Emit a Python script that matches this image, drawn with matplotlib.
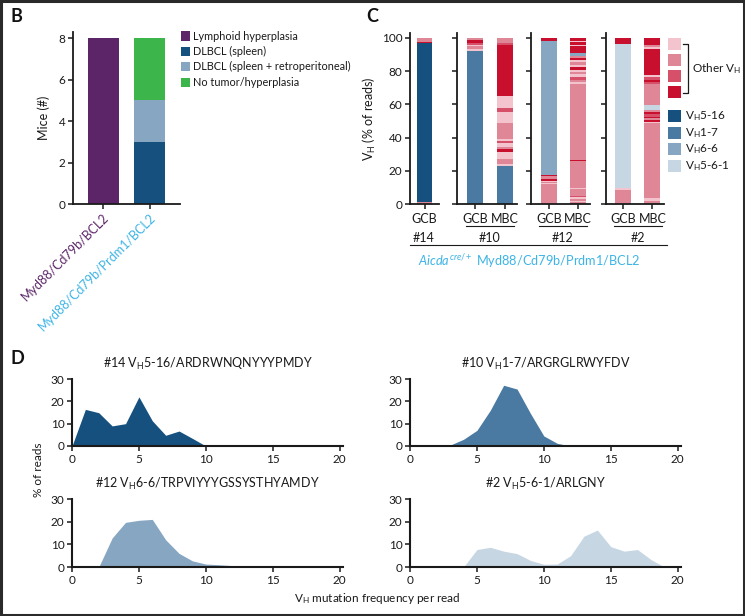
import matplotlib
matplotlib.use("Agg")
import matplotlib.pyplot as plt
from matplotlib.patches import Rectangle
from matplotlib.lines import Line2D
import numpy as np

plt.rcParams['font.family'] = ['Lato', 'DejaVu Sans']
plt.rcParams['mathtext.fontset'] = 'custom'
plt.rcParams['mathtext.rm'] = 'Lato'
plt.rcParams['mathtext.it'] = 'Lato:italic'
plt.rcParams['mathtext.bf'] = 'Lato:bold'

W, H = 745, 616

# ---------------- Panel B data ----------------
b_groups = ["Myd88/Cd79b/BCL2", "Myd88/Cd79b/Prdm1/BCL2"]
b_group_colors = ["#5b2568", "#3db4e6"]
b_categories = ["Lymphoid hyperplasia", "DLBCL (spleen)",
                "DLBCL (spleen + retroperitoneal)", "No tumor/hyperplasia"]
b_cat_colors = ["#5b2568", "#15507f", "#87a6c2", "#3cb54a"]
b_lymphoid = [8, 0]
b_dlbcl_spleen = [0, 3]
b_dlbcl_retro = [0, 2]
b_no_tumor = [0, 3]
b_yticks = [0, 2, 4, 6, 8]

# ---------------- Panel C data ----------------
vh_names = ["$\\mathrm{V_H}$5-16", "$\\mathrm{V_H}$1-7", "$\\mathrm{V_H}$6-6", "$\\mathrm{V_H}$5-6-1"]
seg_colors = {"B1": "#15507f", "B2": "#4a7aa2", "B3": "#87a6c2", "B4": "#c6d6e3",
              "P1": "#f3c4cd", "P2": "#e08797", "P3": "#d6506a", "P4": "#c8102e"}
c_mice = ["#14", "#10", "#12", "#2"]
c_samples = [["GCB"], ["GCB", "MBC"], ["GCB", "MBC"], ["GCB", "MBC"]]

m14_gcb_codes = ["P2", "B1", "P4", "P2"]
m14_gcb_heights = [1.5, 95.3, 0.6, 2.6]

m10_gcb_codes = ["B2", "P1", "P2", "P1", "P3", "P4", "P3", "P2"]
m10_gcb_heights = [92.2, 1.3, 1.5, 1.0, 1.0, 1.5, 0.5, 1.0]
m10_mbc_codes = ["B2", "P1", "P2", "P1", "P4", "P2", "P1", "P3", "P1", "P2",
                 "P1", "P3", "P1", "P4", "P3", "P2"]
m10_mbc_heights = [22.6, 1.6, 2.8, 4.6, 1.6, 1.0, 2.4, 1.4, 1.0, 9.6,
                   7.0, 2.0, 7.4, 31.0, 1.0, 3.0]

m12_gcb_codes = ["P2", "P1", "P2", "P1", "P4", "P2", "P4", "B3", "P4"]
m12_gcb_heights = [12.0, 0.4, 1.0, 0.6, 1.0, 1.6, 1.0, 80.6, 1.8]
m12_mbc_codes = ["P2", "P1", "P2", "P1", "P3", "P2", "P1", "P2", "P4", "P2",
                 "P1", "P2", "P3", "P1", "P2", "P1", "P4", "P1", "P2", "P1",
                 "P4", "P2", "B3", "P4", "P1", "P4", "P1", "P4"]
m12_mbc_heights = [1.0, 1.0, 1.0, 1.2, 0.8, 4.0, 0.6, 16.0, 1.0, 45.6,
                   1.4, 1.0, 2.0, 2.0, 1.0, 1.0, 2.0, 1.0, 2.0, 1.4,
                   1.0, 1.0, 2.0, 4.0, 1.0, 1.4, 1.0, 1.6]

m2_gcb_codes = ["P2", "P1", "B4", "P4"]
m2_gcb_heights = [8.6, 1.0, 87.0, 3.4]
m2_mbc_codes = ["P2", "P1", "P2", "P3", "P2", "P1", "P4", "P2", "P4", "P3",
                "P4", "P2", "B4", "P2", "P3", "P4", "P3", "P1", "P4", "P1",
                "P2", "P4"]
m2_mbc_heights = [1.6, 2.0, 7.6, 0.4, 37.0, 1.0, 1.0, 1.0, 1.0, 1.6,
                  1.4, 1.0, 3.0, 12.4, 1.2, 1.4, 2.0, 1.0, 16.0, 1.0,
                  1.0, 4.4]

c_yticks = [0, 20, 40, 60, 80, 100]

# ---------------- Panel D data ----------------
d_x = list(range(0, 21))
d14 = [0, 16.4, 14.9, 9.0, 10.0, 22.0, 11.3, 4.8, 6.7, 3.4, 0, 0, 0, 0, 0, 0, 0, 0, 0, 0, 0]
d10 = [0, 0, 0, 0.4, 3.0, 7.0, 16.0, 27.2, 25.5, 14.6, 4.5, 1.2, 0, 0, 0, 0, 0, 0, 0, 0, 0]
d12 = [0, 0, 0, 12.8, 19.7, 20.6, 21.0, 12.0, 6.0, 2.7, 1.3, 1.0, 0.6, 0.2, 0, 0, 0, 0, 0, 0, 0]
d2 = [0, 0, 0, 0, 0, 7.7, 8.7, 7.0, 5.9, 2.9, 1.2, 1.3, 5.0, 13.6, 16.3, 9.0, 7.0, 7.7, 3.3, 0, 0]
d_titles = ["#14 $\\mathrm{V_H}$5-16/ARDRWNQNYYYPMDY", "#10 $\\mathrm{V_H}$1-7/ARGRGLRWYFDV",
            "#12 $\\mathrm{V_H}$6-6/TRPVIYYYGSSYSTHYAMDY", "#2 $\\mathrm{V_H}$5-6-1/ARLGNY"]
d_colors = ["#15507f", "#4a7aa2", "#87a6c2", "#c6d6e3"]
d_xticks = [0, 5, 10, 15, 20]
d_yticks = [0, 10, 20, 30]

# ---------------- helpers ----------------
fig = plt.figure(figsize=(W / 100, H / 100), dpi=100)


def fx(px):
    return px / W


def fy(py):
    return 1 - py / H


def add_ax(l, t, r, b):
    return fig.add_axes([fx(l), fy(b), (r - l) / W, (b - t) / H])


def style(ax, lw=1.3):
    for s in ["top", "right"]:
        ax.spines[s].set_visible(False)
    for s in ["left", "bottom"]:
        ax.spines[s].set_linewidth(lw)
        ax.spines[s].set_color("#1a1a1a")
    ax.tick_params(direction="out", length=3.5, width=1.1, colors="#1a1a1a",
                   labelsize=8.5, pad=2)


TXT = "#1a1a1a"

# frame
fig.add_artist(Rectangle((0.0015, 0.002), 0.997, 0.996, transform=fig.transFigure,
                         fill=False, edgecolor="#2a2a2a", linewidth=2.2))

# panel letters
for letter, (px, py) in zip("BCD", [(10, 17), (366, 17), (10, 359)]):
    fig.text(fx(px), fy(py), letter, fontsize=13, fontweight="bold", va="center",
             ha="left", color="#111111")

# ---------------- Panel B ----------------
axB = add_ax(73, 32, 180, 204)
style(axB)
xb = np.arange(len(b_groups))
bottom = np.zeros(len(b_groups))
for vals, col in zip([b_lymphoid, b_dlbcl_spleen, b_dlbcl_retro, b_no_tumor], b_cat_colors):
    axB.bar(xb, vals, bottom=bottom, width=0.66, color=col, edgecolor="none")
    bottom += np.array(vals)
axB.set_xlim(-0.64, 1.64)
axB.set_ylim(0, 8.3)
axB.set_yticks(b_yticks)
axB.set_xticks(xb)
axB.set_xticklabels(b_groups, rotation=45, ha="right", rotation_mode="anchor", fontsize=9)
for lbl, c in zip(axB.get_xticklabels(), b_group_colors):
    lbl.set_color(c)
axB.set_ylabel("Mice (#)", fontsize=9, color=TXT, labelpad=6)

for i, (name, col) in enumerate(zip(b_categories, b_cat_colors)):
    yc = 36 + i * 15.4
    fig.add_artist(Rectangle((fx(181), fy(yc + 4.5)), 9 / W, 9 / H,
                             transform=fig.transFigure, facecolor=col, edgecolor="none"))
    fig.text(fx(193), fy(yc), name, fontsize=7.8, va="center", ha="left", color=TXT)

# ---------------- Panel C ----------------
c_bars = [
    [(m14_gcb_codes, m14_gcb_heights)],
    [(m10_gcb_codes, m10_gcb_heights), (m10_mbc_codes, m10_mbc_heights)],
    [(m12_gcb_codes, m12_gcb_heights), (m12_mbc_codes, m12_mbc_heights)],
    [(m2_gcb_codes, m2_gcb_heights), (m2_mbc_codes, m2_mbc_heights)],
]
c_axes_px = [(410, 439), (457, 517), (531, 590), (606, 664)]
c_under_px = [None, (466, 514), (539, 587), (614, 662)]
c_mouse_x = [424, 490, 563, 638]
for k, ((l, r), bars) in enumerate(zip(c_axes_px, c_bars)):
    ax = add_ax(l, 33, r, 204)
    style(ax)
    for j, (codes, heights) in enumerate(bars):
        bot = 0.0
        for code, h in zip(codes, heights):
            ax.bar(j, h, bottom=bot, width=0.55, color=seg_colors[code], edgecolor="none")
            bot += h
    if len(bars) == 1:
        ax.set_xlim(-0.5, 0.5)
    else:
        ax.set_xlim(-0.6, 1.4)
    ax.set_ylim(0, 103)
    ax.set_yticks(c_yticks)
    ax.set_xticks(range(len(bars)))
    ax.set_xticklabels(c_samples[k], fontsize=9)
    ax.tick_params(axis="x", pad=3)
    if k == 0:
        ax.set_ylabel("$\\mathrm{V_H}$ (% of reads)", fontsize=9, color=TXT, labelpad=3)
    else:
        ax.set_yticklabels([])
    if c_under_px[k] is not None:
        a, b = c_under_px[k]
        fig.add_artist(Line2D([fx(a), fx(b)], [fy(226), fy(226)], color=TXT, lw=0.8))
    fig.text(fx(c_mouse_x[k]), fy(237.5), c_mice[k], fontsize=9, ha="center",
             va="center", color=TXT)

fig.add_artist(Line2D([fx(410), fx(667)], [fy(245), fy(245)], color=TXT, lw=0.8))
fig.text(fx(529), fy(261), "$\\it{Aicda}^{\\it{cre/+}}$ Myd88/Cd79b/Prdm1/BCL2",
         fontsize=9.2, ha="center", va="center", color="#3db4e6")

# legend C
pink_codes = ["P1", "P2", "P3", "P4"]
for i, code in enumerate(pink_codes):
    top = 38 + i * 16
    fig.add_artist(Rectangle((fx(668), fy(top + 12)), 13 / W, 12 / H,
                             transform=fig.transFigure, facecolor=seg_colors[code],
                             edgecolor="none"))
fig.add_artist(Line2D([fx(683), fx(688), fx(688), fx(683)],
                      [fy(44), fy(44), fy(93), fy(93)], color=TXT, lw=0.9))
fig.text(fx(692), fy(69), "Other $\\mathrm{V_H}$", fontsize=8.5, ha="left",
         va="center", color=TXT)
blue_codes = ["B1", "B2", "B3", "B4"]
for i, (code, name) in enumerate(zip(blue_codes, vh_names)):
    top = 110 + i * 16.7
    fig.add_artist(Rectangle((fx(668), fy(top + 12)), 13 / W, 12 / H,
                             transform=fig.transFigure, facecolor=seg_colors[code],
                             edgecolor="none"))
    fig.text(fx(685), fy(top + 6), name, fontsize=8.5, ha="left", va="center", color=TXT)

# ---------------- Panel D ----------------
d_series = [d14, d10, d12, d2]
d_pos = [(72, 379, 343, 446), (410, 379, 681, 446),
         (72, 499, 343, 567), (410, 499, 681, 567)]
for vals, col, title, (l, t, r, b) in zip(d_series, d_colors, d_titles, d_pos):
    ax = add_ax(l, t, r, b)
    style(ax, lw=1.5)
    ax.fill_between(d_x, vals, 0, color=col, linewidth=0)
    ax.set_xlim(0, 20.25)
    ax.set_ylim(0, 30)
    ax.set_xticks(d_xticks)
    ax.set_yticks(d_yticks)
    ax.tick_params(labelsize=8.5)
    ax.set_title(title, fontsize=9, color=TXT, pad=8)

fig.text(fx(38), fy(470), "% of reads", rotation=90, fontsize=8.5, ha="center",
         va="center", color=TXT)
fig.text(fx(377), fy(599), "$\\mathrm{V_H}$ mutation frequency per read", fontsize=8.5,
         ha="center", va="center", color=TXT)

fig.savefig("out.png", dpi=100)
